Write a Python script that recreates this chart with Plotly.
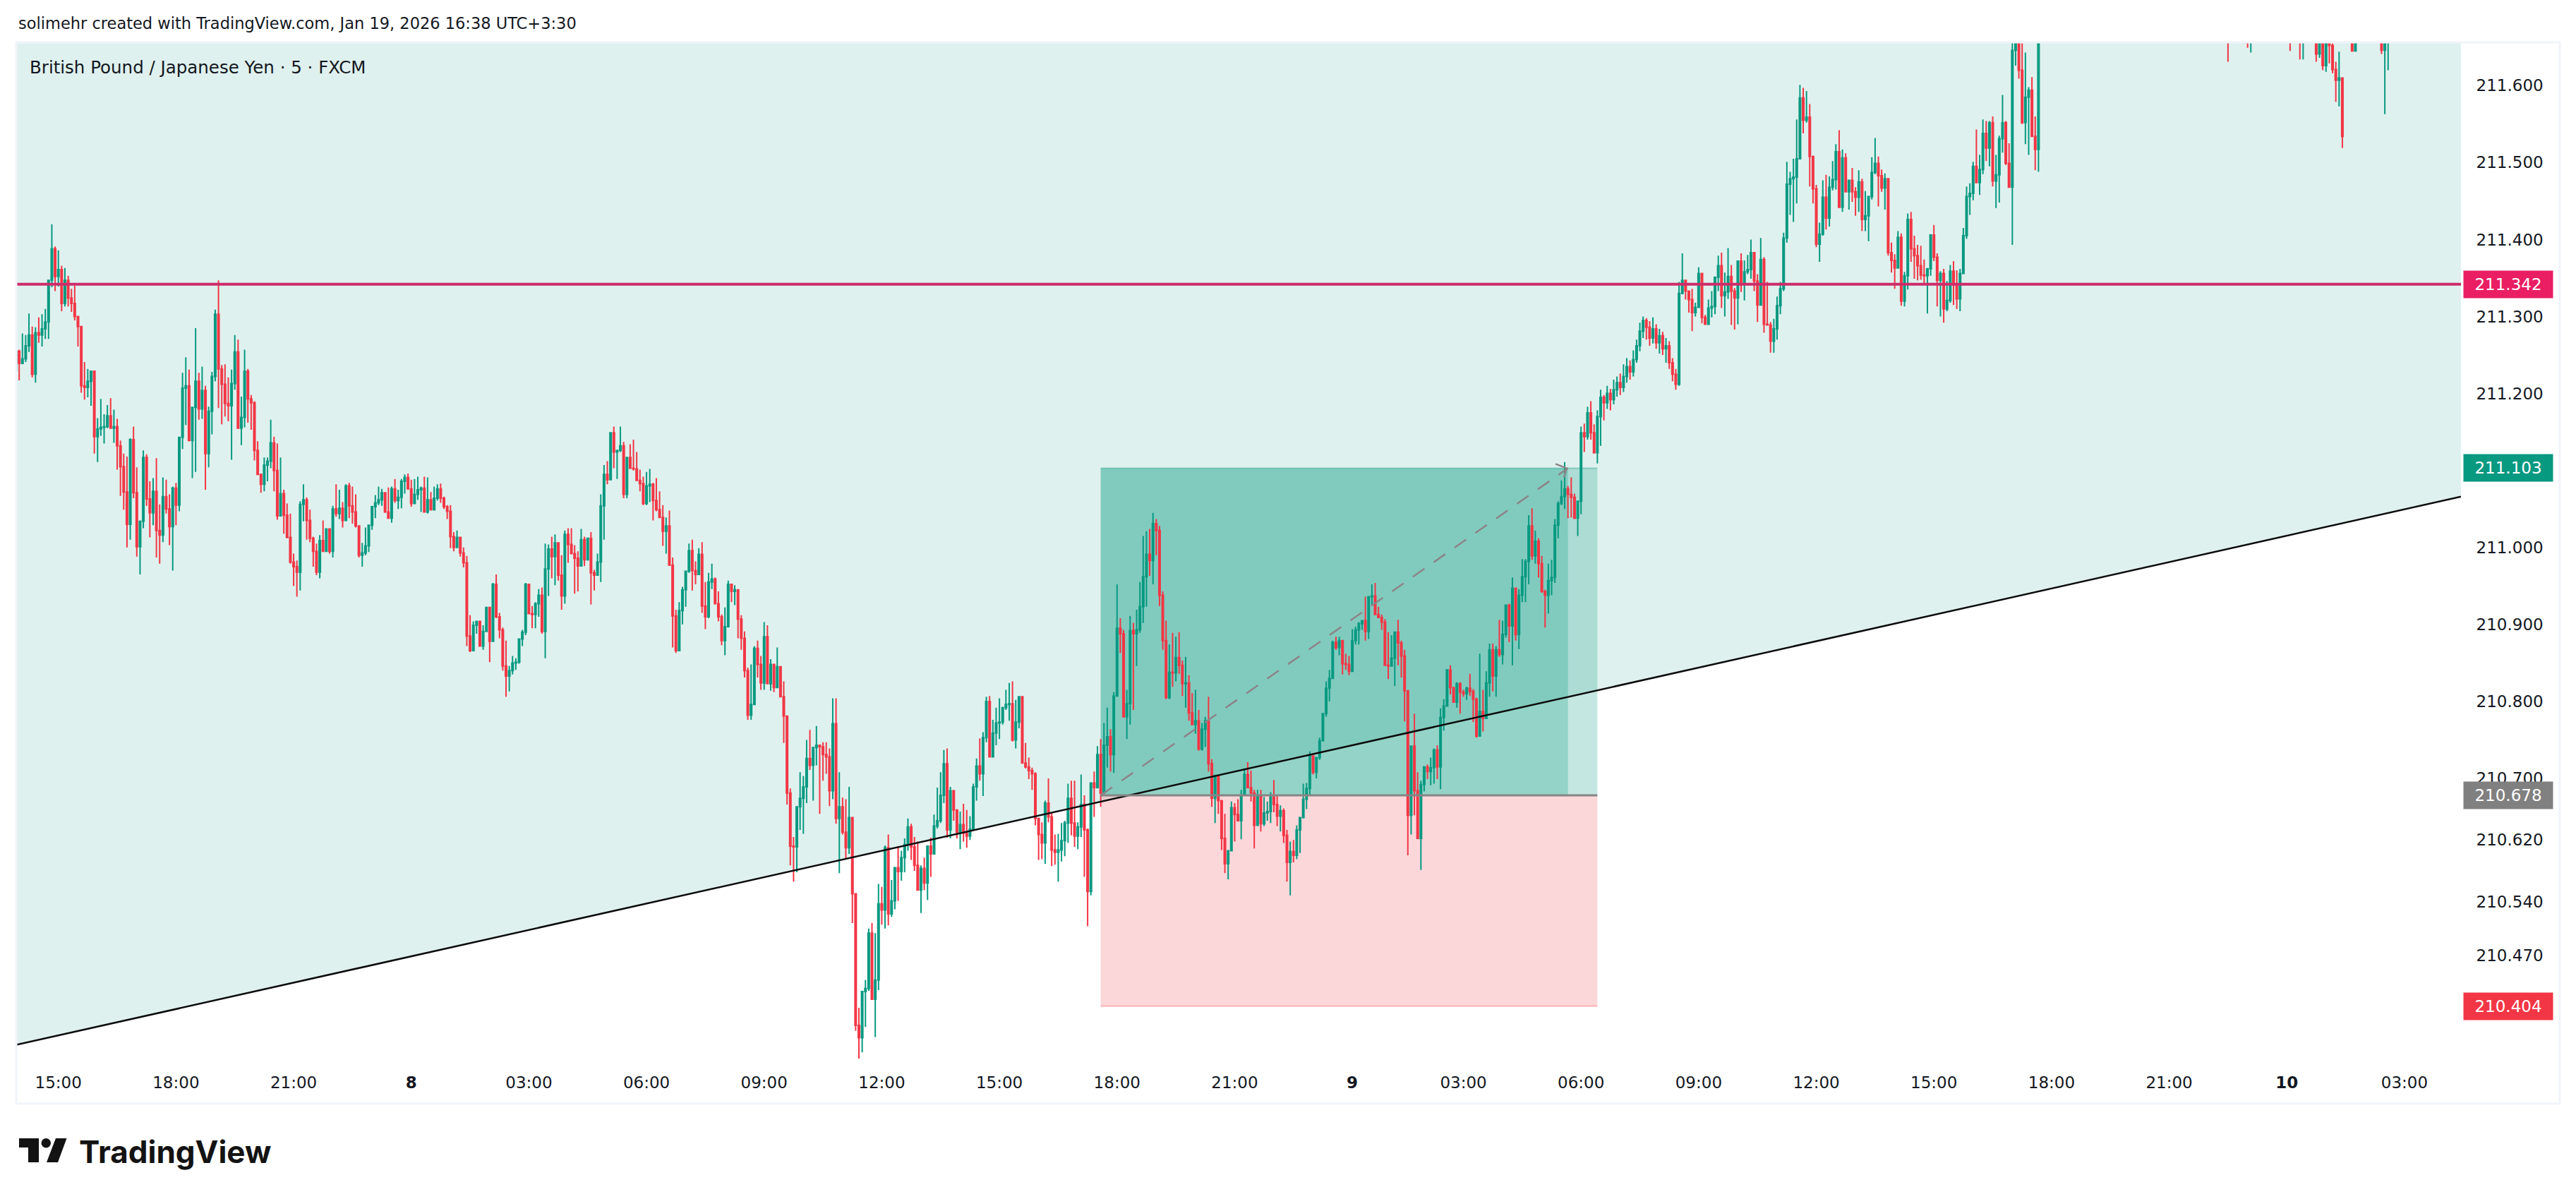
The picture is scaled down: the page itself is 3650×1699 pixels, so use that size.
import plotly.graph_objects as go

# GBP/JPY 5-minute bars, stored as thousandths of a yen above 210.
BASE_PRICE = 210.0
first_open = 1230
gap_opens = {713: 1680}

closes = [
 1255,1239,1245,1262,1276,1225,1279,1276,1284,1293,1347,1388,1352,1361,1317,1347,1324,1317,1300,1287,
 1210,1208,1216,1229,1144,1154,1156,1157,1171,1155,1157,1132,1105,1072,1030,1140,1071,1001,1034,1117,
 1063,1045,1073,1022,1016,1066,1050,1027,1077,1055,1143,1207,1210,1139,1182,1216,1180,1204,1122,1177,
 1222,1303,1232,1212,1187,1184,1213,1254,1155,1169,1229,1193,1188,1126,1095,1082,1107,1112,1136,1100,
 1041,1070,1042,1013,981,975,968,1056,1062,1035,1012,995,968,1009,995,1024,995,1050,1044,1051,
 1035,1080,1054,1046,1028,990,993,1002,1029,1053,1058,1062,1071,1046,1038,1076,1061,1065,1086,1091,
 1076,1057,1069,1075,1077,1046,1062,1049,1064,1076,1064,1053,1047,1014,1000,1013,993,980,885,866,
 899,904,872,891,922,878,952,910,893,846,833,840,850,851,881,890,952,914,913,927,
 938,891,972,998,988,1006,964,937,1017,1004,992,986,976,1010,984,1012,967,964,981,1054,
 1095,1088,1149,1124,1126,1132,1069,1117,1103,1102,1087,1083,1057,1080,1082,1061,1049,1039,1021,1028,
 977,911,866,918,945,969,996,970,965,991,924,910,955,959,927,910,879,897,952,943,
 945,907,882,840,782,796,869,848,824,884,823,848,818,845,806,781,681,612,611,663,
 674,689,726,717,740,743,741,731,728,684,771,648,663,630,610,649,550,379,363,423,
 427,499,413,438,537,529,610,524,541,584,579,597,614,637,611,587,555,583,564,612,
 602,638,645,678,719,633,684,659,630,640,629,625,634,689,716,706,753,800,728,759,
 772,773,792,796,797,750,773,806,720,715,710,706,648,627,616,668,650,607,604,607,
 619,642,674,642,625,637,666,633,553,694,688,731,681,743,754,731,807,895,888,780,
 797,892,888,893,923,962,991,983,1031,1022,938,879,805,838,837,857,847,823,824,785,
 770,775,738,764,775,719,674,704,671,622,589,606,662,653,645,678,705,688,681,639,
 678,641,655,657,676,666,651,658,626,591,605,600,633,649,673,687,729,708,727,749,
 784,817,830,877,870,879,849,848,839,879,893,901,905,891,936,937,913,909,903,847,
 846,856,890,876,859,814,652,742,684,622,692,715,709,714,737,715,779,794,841,818,
 799,823,812,810,817,813,803,755,787,778,824,867,833,867,861,887,925,898,947,887,
 938,962,982,1028,989,1008,979,943,938,957,961,1029,1057,1066,1076,1069,1065,1038,1060,1149,
 1144,1175,1149,1123,1170,1195,1188,1200,1192,1205,1214,1208,1222,1235,1228,1244,1262,1281,1295,1286,
 1272,1284,1266,1275,1258,1262,1240,1225,1212,1330,1347,1333,1322,1305,1312,1356,1299,1290,1311,1313,
 1351,1366,1327,1332,1352,1333,1324,1372,1343,1358,1361,1383,1346,1315,1374,1290,1289,1268,1284,1314,
 1336,1402,1472,1479,1481,1505,1584,1555,1559,1508,1466,1394,1407,1455,1428,1468,1478,1514,1442,1506,
 1462,1477,1462,1455,1475,1426,1431,1456,1487,1499,1483,1467,1479,1383,1373,1363,1403,1320,1353,1426,
 1388,1379,1366,1354,1353,1362,1406,1377,1347,1356,1310,1321,1359,1341,1323,1356,1405,1456,1460,1495,
 1474,1491,1538,1519,1552,1476,1484,1531,1552,1499,1468,1646,1660,1620,1552,1585,1594,1534,1517,1680,
 1705,1715,1730,1722,1741,1750,1738,1755,1748,1760,1772,1765,1780,1774,1786,1778,1790,1782,1795,1788,
 1800,1792,1805,1796,1785,1794,1780,1772,1784,1775,1762,1770,1755,1762,1748,1755,1740,1748,1735,1742,
 1728,1736,1722,1730,1718,1726,1714,1722,1710,1716,1702,1710,1698,1705,1692,1700,1688,1682,1690,1696,
 1688,1692,1685,1680,1690,1698,1704,1712,1706,1716,1722,1714,1708,1716,1708,1700,1690,1698,1692,1684,
 1694,1700,1706,1700,1641,1700,1626,1700,1652,1621,1607,1610,1534,1690,1698,1645,1700,1708,1714,1706,
 1712,1704,1698,1692,1646,1690,1696,
]

highs = [
 1281,1257,1278,1276,1304,1287,1286,1299,1303,1310,1348,1420,1391,1386,1366,1363,1353,1336,1340,1301,
 1288,1241,1232,1229,1229,1168,1193,1173,1185,1194,1179,1167,1139,1122,1118,1142,1157,1104,1035,1126,
 1121,1086,1090,1116,1056,1091,1088,1069,1079,1084,1143,1227,1247,1231,1182,1285,1227,1235,1210,1183,
 1228,1309,1347,1237,1238,1221,1231,1276,1270,1196,1257,1232,1198,1190,1138,1096,1117,1117,1166,1144,
 1135,1117,1075,1057,1044,992,983,1060,1082,1065,1049,1014,1005,1016,1035,1025,1024,1054,1082,1075,
 1059,1082,1084,1079,1069,1029,1006,1026,1029,1054,1068,1079,1076,1072,1078,1079,1089,1075,1089,1095,
 1096,1088,1089,1092,1079,1092,1091,1072,1079,1082,1083,1066,1055,1055,1020,1022,1014,1000,989,912,
 904,905,905,899,923,922,954,965,915,896,879,846,859,856,881,893,954,952,924,929,
 946,948,1005,1004,1014,1017,1007,990,1022,1025,1025,1003,995,1024,1014,1012,1020,971,992,1069,
 1107,1112,1149,1157,1127,1157,1137,1117,1134,1140,1124,1101,1092,1098,1102,1084,1090,1073,1055,1039,
 1048,987,919,929,949,969,1005,1010,982,999,1007,955,967,979,961,943,913,922,957,953,
 951,946,912,891,844,848,872,879,859,903,899,855,848,870,846,826,781,687,624,663,
 708,703,750,763,740,768,744,747,747,739,804,804,708,675,673,689,649,551,402,423,
 438,505,512,499,563,559,613,627,568,584,612,606,622,648,641,624,618,587,597,613,
 623,653,688,708,737,739,689,685,659,657,667,659,651,693,726,752,760,806,807,776,
 792,804,793,815,824,826,802,806,806,746,727,714,708,648,643,671,700,656,627,628,
 642,645,693,697,697,643,705,678,635,694,709,742,751,772,792,764,812,952,908,893,
 815,911,902,919,955,1015,1021,1024,1045,1037,1028,943,905,874,889,884,890,853,858,834,
 811,815,789,772,780,806,725,704,704,672,654,606,670,668,673,685,713,721,710,685,
 685,685,676,670,682,698,677,665,661,633,618,620,639,650,693,694,735,729,727,753,
 784,826,841,879,884,884,880,862,859,894,897,903,905,936,937,952,954,923,913,907,
 890,886,891,906,879,867,814,742,784,708,697,716,718,727,739,743,791,803,841,847,
 818,825,825,815,819,836,816,805,862,815,839,875,875,872,906,905,926,927,961,948,
 946,985,985,1042,1051,1022,1012,989,945,979,984,1037,1060,1087,1111,1080,1091,1070,1060,1157,
 1161,1183,1190,1160,1178,1205,1198,1210,1206,1218,1222,1226,1238,1246,1243,1256,1270,1292,1300,1298,
 1294,1299,1290,1284,1280,1272,1268,1246,1232,1345,1382,1348,1334,1336,1318,1364,1356,1302,1322,1333,
 1352,1379,1383,1357,1389,1367,1337,1372,1382,1373,1380,1400,1383,1355,1402,1377,1345,1293,1297,1326,
 1345,1409,1501,1488,1505,1556,1601,1597,1593,1576,1509,1471,1422,1477,1484,1482,1502,1524,1542,1517,
 1512,1477,1493,1468,1490,1479,1463,1456,1507,1532,1508,1491,1486,1479,1396,1381,1411,1408,1358,1434,
 1436,1405,1393,1392,1374,1363,1407,1419,1382,1359,1362,1346,1367,1372,1360,1362,1415,1469,1473,1501,
 1543,1510,1556,1554,1554,1560,1510,1535,1588,1554,1525,1660,1680,1680,1670,1643,1598,1611,1560,1700,
 1720,1728,1742,1738,1752,1765,1758,1770,1764,1776,1785,1782,1792,1790,1798,1794,1802,1796,1808,1804,
 1812,1806,1818,1812,1802,1806,1798,1788,1792,1790,1780,1782,1776,1772,1768,1766,1760,1758,1754,1752,
 1748,1746,1742,1740,1736,1734,1732,1730,1728,1726,1722,1720,1716,1714,1712,1710,1706,1700,1704,1708,
 1702,1704,1700,1696,1702,1710,1716,1722,1718,1726,1732,1728,1724,1726,1722,1716,1710,1708,1706,1700,
 1704,1712,1716,1714,1705,1712,1704,1710,1706,1655,1631,1644,1610,1702,1708,1704,1708,1718,1724,1720,
 1722,1716,1712,1706,1698,1700,1706,
]

lows = [
 1205,1217,1239,1241,1254,1221,1214,1266,1261,1271,1271,1338,1333,1339,1307,1313,1313,1306,1295,1261,
 1201,1192,1195,1184,1122,1111,1145,1135,1155,1155,1136,1101,1067,1049,1000,1010,1064,988,965,1025,
 1054,1013,1029,987,979,1007,1044,1003,970,1029,1047,1128,1159,1139,1090,1098,1166,1167,1075,1104,
 1147,1216,1181,1160,1170,1164,1114,1205,1155,1133,1156,1162,1153,1113,1095,1071,1073,1086,1103,1073,
 1036,1041,1018,1012,979,950,936,944,1034,1010,1007,975,964,960,995,994,992,987,1040,1037,
 1026,1035,1038,1031,1026,987,975,990,994,1023,1038,1055,1054,1045,1038,1032,1058,1050,1051,1070,
 1076,1053,1057,1062,1046,1046,1044,1048,1048,1061,1058,1050,1037,999,995,1000,988,974,872,864,
 866,888,872,867,890,851,878,908,882,840,806,813,835,841,849,872,886,914,895,895,
 910,888,856,937,960,951,957,919,927,980,992,940,943,976,976,984,926,944,964,955,
 1010,1082,1088,1103,1089,1124,1064,1064,1103,1100,1087,1073,1055,1055,1059,1035,1047,1039,1002,992,
 976,870,863,866,900,923,967,944,952,965,915,894,908,946,926,904,873,860,896,929,
 925,882,867,831,776,776,796,831,815,815,823,814,812,818,806,746,666,587,566,578,
 633,628,668,711,671,717,654,697,706,664,673,641,577,627,595,602,512,372,336,344,
 377,424,413,364,425,510,505,509,520,530,541,567,578,606,594,580,555,525,555,542,
 572,602,635,642,668,623,622,645,622,608,618,610,620,633,671,697,677,747,727,727,
 743,751,770,789,775,748,739,765,720,713,699,685,639,594,595,589,643,586,588,566,
 592,599,616,626,611,608,624,572,508,548,650,687,663,680,714,709,707,806,863,780,
 751,770,789,846,889,902,923,963,952,990,924,867,803,803,819,826,836,807,792,775,
 770,758,736,736,741,709,663,642,654,607,577,569,606,618,644,621,677,688,670,609,
 639,631,638,645,642,656,638,631,616,566,548,591,595,603,648,660,677,705,700,724,
 748,780,800,829,867,860,835,841,834,839,874,874,893,879,881,925,912,909,893,847,
 829,846,820,847,831,774,600,627,652,622,581,683,699,691,693,699,686,762,793,809,
 798,792,784,806,802,807,773,753,755,761,778,806,813,806,858,848,883,877,847,879,
 868,929,929,952,984,979,961,941,896,914,938,954,1012,1055,1050,1038,1039,1037,1015,1043,
 1124,1140,1140,1122,1109,1132,1165,1180,1178,1186,1196,1198,1202,1214,1218,1222,1240,1255,1272,1270,
 1262,1265,1258,1252,1250,1240,1232,1216,1205,1210,1329,1322,1305,1281,1300,1311,1291,1290,1289,1299,
 1303,1333,1311,1300,1323,1289,1283,1290,1332,1321,1355,1349,1333,1293,1315,1279,1289,1253,1253,1270,
 1303,1333,1396,1432,1423,1447,1504,1538,1552,1469,1447,1390,1371,1405,1413,1417,1464,1465,1442,1436,
 1462,1439,1449,1431,1436,1411,1411,1398,1452,1485,1443,1462,1439,1379,1357,1336,1363,1314,1313,1335,
 1371,1349,1347,1348,1341,1304,1353,1372,1313,1300,1292,1307,1318,1315,1310,1307,1355,1401,1432,1451,
 1473,1458,1485,1502,1495,1469,1441,1448,1513,1497,1468,1393,1626,1609,1550,1524,1510,1534,1490,1488,
 1678,1698,1708,1712,1718,1735,1728,1732,1738,1744,1752,1755,1760,1762,1768,1770,1772,1774,1778,1780,
 1784,1786,1788,1790,1778,1780,1772,1764,1768,1768,1755,1756,1748,1750,1740,1742,1732,1735,1728,1730,
 1720,1722,1715,1716,1710,1712,1706,1708,1702,1704,1694,1696,1690,1692,1686,1684,1680,1631,1672,1680,
 1675,1678,1655,1649,1643,1676,1684,1690,1690,1694,1702,1698,1692,1696,1690,1680,1645,1672,1670,1634,
 1634,1680,1684,1682,1631,1636,1620,1618,1629,1616,1579,1573,1519,1668,1676,1645,1644,1690,1694,1692,
 1696,1690,1684,1680,1641,1563,1620,
]

# Axis ticks
price_ticks = [211.6, 211.5, 211.4, 211.3, 211.2, 211.1, 211.0, 210.9, 210.8, 210.7, 210.62, 210.54, 210.47]
time_tick_bars = [13, 49, 85, 121, 157, 193, 229, 265, 301, 337, 373, 409, 443, 479, 515, 551, 587, 623, 659, 695, 731]
time_tick_text = ["15:00", "18:00", "21:00", "<b>8</b>", "03:00", "06:00", "09:00", "12:00", "15:00", "18:00", "21:00",
                  "<b>9</b>", "03:00", "06:00", "09:00", "12:00", "15:00", "18:00", "21:00", "<b>10</b>", "03:00"]

# Drawing levels
resistance_level = 211.342
entry_price = 210.678
target_price = 211.103
stop_price = 210.404
position_bars = [332, 475, 484]   # start, last traded bar, end of the tool
trend_bars = [0.32, 748.3]
trend_prices = [210.354, 211.066]
arrow_bars = [471.2, 474.6, 473.8]
arrow_prices = [211.1085, 211.103, 211.091]
x_range = [0.32, 748.3]
y_range = [210.3296, 211.6553]

W, H = 3650, 1699
PANE_LEFT, PANE_RIGHT, PANE_TOP, PANE_BOTTOM = 24, 3487, 61, 1507
TEAL, RED = "#089981", "#f23645"
INK = "#131722"
FONT = "DejaVu Sans"


def px(x):
    return x / W


def py(y):
    return 1 - y / H


def to_price(v):
    return BASE_PRICE + v / 1000


opens = [first_open] + closes[:-1]
for bar, value in gap_opens.items():
    opens[bar] = value

bars = list(range(len(closes)))

fig = go.Figure()

# Candles sit above the zones and below the drawn lines.
fig.add_trace(go.Candlestick(
    x=bars,
    open=[to_price(v) for v in opens],
    high=[to_price(v) for v in highs],
    low=[to_price(v) for v in lows],
    close=[to_price(v) for v in closes],
    increasing=dict(line=dict(color=TEAL, width=2), fillcolor=TEAL),
    decreasing=dict(line=dict(color=RED, width=2), fillcolor=RED),
    whiskerwidth=0,
    hoverinfo="skip",
))
fig.add_trace(go.Scatter(x=trend_bars, y=trend_prices, mode="lines",
                         line=dict(color="#0b0b0b", width=2.5), hoverinfo="skip"))
fig.add_trace(go.Scatter(x=x_range, y=[resistance_level, resistance_level], mode="lines",
                         line=dict(color="#cc2d6a", width=4), hoverinfo="skip"))
fig.add_trace(go.Scatter(x=[position_bars[0], position_bars[2]], y=[entry_price, entry_price], mode="lines",
                         line=dict(color="#858585", width=3), hoverinfo="skip"))
fig.add_trace(go.Scatter(x=[position_bars[0], position_bars[1]], y=[entry_price, target_price], mode="lines",
                         line=dict(color="#8c8488", width=2.5, dash="20px,16px"), hoverinfo="skip"))
fig.add_trace(go.Scatter(x=arrow_bars, y=arrow_prices, mode="lines",
                         line=dict(color="#8c8488", width=2.5), hoverinfo="skip"))

shapes = []
# Shaded side of the trend line, reaching up to the top of the pane.
shapes.append(dict(type="path", xref="x", yref="y", layer="below", line=dict(width=0), fillcolor="#dff1ee",
                   path=f"M {trend_bars[0]},{trend_prices[0]} L {trend_bars[1]},{trend_prices[1]} "
                        f"L {trend_bars[1]},{y_range[1]} L {trend_bars[0]},{y_range[1]} Z"))
# Long position tool: profit zone, realised part of it, and stop zone.
shapes.append(dict(type="rect", xref="x", yref="y", layer="below", x0=position_bars[0], x1=position_bars[2],
                   y0=entry_price, y1=target_price, fillcolor=TEAL, opacity=0.235, line=dict(width=0)))
shapes.append(dict(type="rect", xref="x", yref="y", layer="below", x0=position_bars[0], x1=position_bars[1],
                   y0=entry_price, y1=target_price, fillcolor=TEAL, opacity=0.26, line=dict(width=0)))
shapes.append(dict(type="rect", xref="x", yref="y", layer="below", x0=position_bars[0], x1=position_bars[2],
                   y0=stop_price, y1=entry_price, fillcolor=RED, opacity=0.2, line=dict(width=0)))
shapes.append(dict(type="line", xref="x", yref="y", layer="below", x0=position_bars[0], x1=position_bars[2],
                   y0=target_price, y1=target_price, line=dict(color="rgba(8,153,129,0.35)", width=2)))
shapes.append(dict(type="line", xref="x", yref="y", layer="below", x0=position_bars[0], x1=position_bars[2],
                   y0=stop_price, y1=stop_price, line=dict(color="rgba(242,54,69,0.3)", width=2)))
# Frame around the chart.
shapes.append(dict(type="rect", xref="paper", yref="paper", x0=px(23), x1=px(3627), y0=py(60), y1=py(1564),
                   fillcolor="rgba(0,0,0,0)", line=dict(color="#f0f3fa", width=3)))
# Brand mark: bar and stem, dot, slash.
shapes.append(dict(type="path", xref="paper", yref="paper", fillcolor="#131313", line=dict(width=0),
                   path=f"M {px(27)},{py(1613)} L {px(55)},{py(1613)} L {px(55)},{py(1647)} L {px(40)},{py(1647)} "
                        f"L {px(40)},{py(1626)} L {px(27)},{py(1626)} Z"))
shapes.append(dict(type="circle", xref="paper", yref="paper", fillcolor="#131313", line=dict(width=0),
                   x0=px(58.5), x1=px(72), y0=py(1626.5), y1=py(1613)))
shapes.append(dict(type="path", xref="paper", yref="paper", fillcolor="#131313", line=dict(width=0),
                   path=f"M {px(79)},{py(1613)} L {px(94.5)},{py(1613)} L {px(82)},{py(1647)} L {px(66)},{py(1647)} Z"))

annotations = [
    dict(xref="paper", yref="paper", x=px(24), y=py(33), xanchor="left", yanchor="middle", showarrow=False,
         text="solimehr created with TradingView.com, Jan 19, 2026 16:38 UTC+3:30",
         font=dict(family=FONT, size=22.5, color=INK)),
    dict(xref="paper", yref="paper", x=px(40), y=py(96), xanchor="left", yanchor="middle", showarrow=False,
         text="British Pound / Japanese Yen · 5 · FXCM",
         font=dict(family=FONT, size=24.5, color=INK)),
    dict(xref="paper", yref="paper", x=px(110), y=py(1632), xanchor="left", yanchor="middle", showarrow=False,
         text="<b>TradingView</b>", font=dict(family="Inter", size=44, color="#131313")),
]
for level, colour in [(resistance_level, "#e91e63"), (target_price, TEAL), (entry_price, "#808080"), (stop_price, RED)]:
    annotations.append(dict(xref="paper", yref="y", x=px(3490), y=level, xanchor="left", yanchor="middle",
                            showarrow=False, text=f"{level:.3f}", width=126, height=38, bgcolor=colour,
                            borderpad=0, font=dict(family=FONT, size=23, color="#ffffff")))

fig.update_layout(
    width=W, height=H, autosize=False,
    margin=dict(l=0, r=0, t=0, b=0),
    paper_bgcolor="#ffffff", plot_bgcolor="#ffffff",
    showlegend=False, boxgap=0.38, boxgroupgap=0.3,
    shapes=shapes, annotations=annotations,
    xaxis=dict(domain=[px(PANE_LEFT), px(PANE_RIGHT)], range=x_range, rangeslider=dict(visible=False),
               showgrid=False, zeroline=False, showline=False, tickmode="array",
               tickvals=time_tick_bars, ticktext=time_tick_text, tickangle=0,
               ticks="outside", tickcolor="rgba(0,0,0,0)", ticklen=6,
               tickfont=dict(family=FONT, size=23, color=INK)),
    yaxis=dict(domain=[py(PANE_BOTTOM), py(PANE_TOP)], range=y_range, side="right",
               showgrid=False, zeroline=False, showline=False, tickmode="array",
               tickvals=price_ticks, ticktext=[f"{t:.3f}" for t in price_ticks],
               ticks="outside", tickcolor="rgba(0,0,0,0)", ticklen=16,
               tickfont=dict(family=FONT, size=23, color=INK)),
)

fig.write_html("out.html", config=dict(displayModeBar=False))
